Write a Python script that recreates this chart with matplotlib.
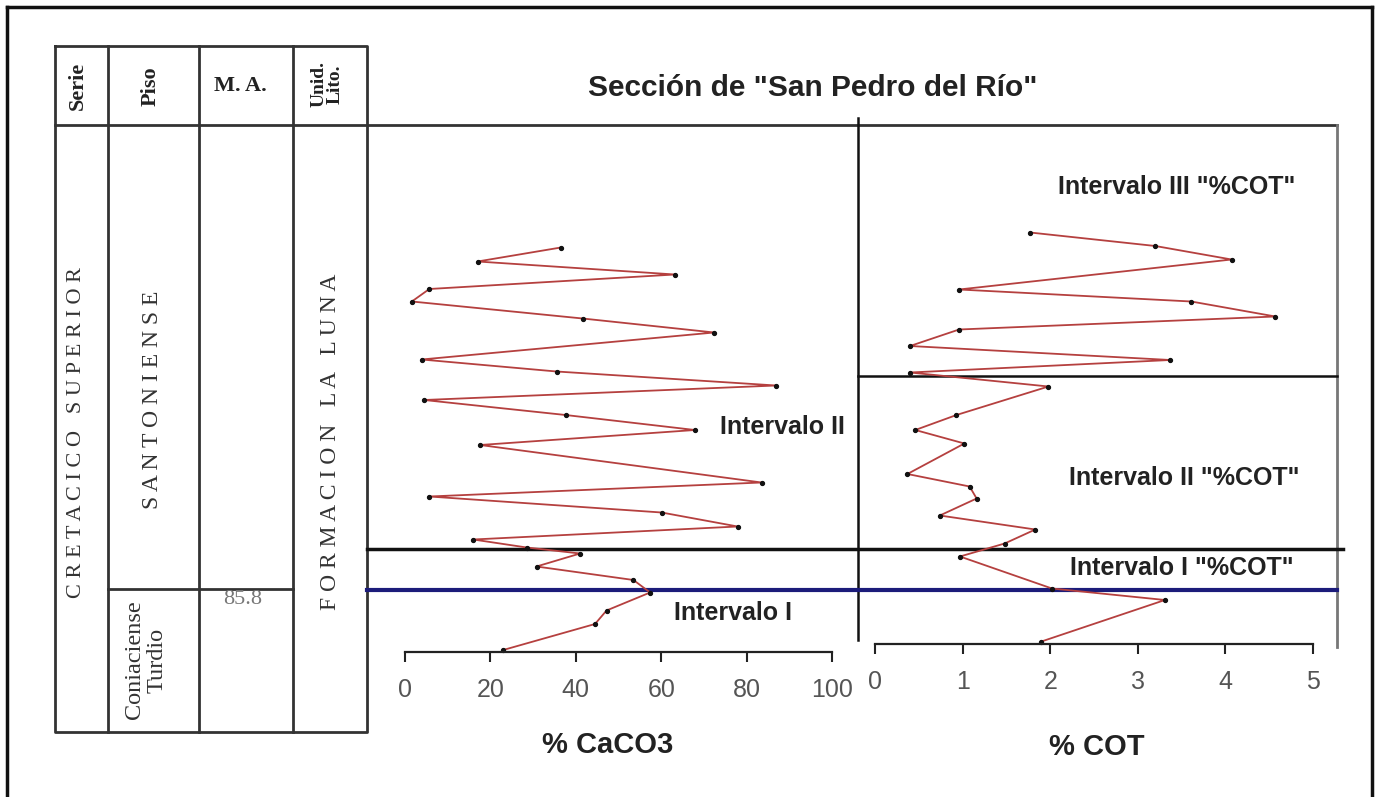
import matplotlib.pyplot as plt
from matplotlib.transforms import blended_transform_factory

W, H = 1379, 797

# altura estratigrafica relativa de cada muestra y valores medidos
alt_caco3 = [80.9, 78.1, 75.5, 72.6, 70.1, 66.7, 63.9, 58.5, 56.1, 53.3, 50.4, 47.4, 44.4, 41.4,
             33.9, 31.1, 27.9, 25.1, 22.5, 20.9, 19.7, 17.1, 14.4, 11.9, 8.3, 5.6, 0.4]
caco3 = [36.5, 17, 63.2, 5.7, 1.6, 41.6, 72.4, 3.9, 35.5, 86.9, 4.5, 37.6, 67.9, 17.6,
         83.5, 5.7, 60.1, 77.9, 16, 28.5, 41, 30.8, 53.5, 57.4, 47.2, 44.5, 23]

alt_cot = [83.9, 81.2, 78.5, 72.5, 70.1, 67.1, 64.5, 61.2, 58.4, 55.9, 53.1, 47.4, 44.4, 41.7,
           35.6, 33.1, 30.7, 27.3, 24.5, 21.7, 19.1, 12.7, 10.4, 2.1]
cot = [1.77, 3.20, 4.07, 0.96, 3.61, 4.57, 0.96, 0.40, 3.37, 0.40, 1.98, 0.93, 0.46, 1.02,
       0.37, 1.08, 1.16, 0.74, 1.83, 1.48, 0.97, 2.02, 3.31, 1.90]

ticks_caco3 = [0, 20, 40, 60, 80, 100]
ticks_cot = [0, 1, 2, 3, 4, 5]

lim_I_II = 20.6      # limite negro
lim_base = 12.4      # limite azul
lim_cot_III = 55.2   # limite intervalo III de COT

SANS = 'Liberation Sans'
SERIF = 'Liberation Serif'
LINEA = '#b5403f'


def frac(x0, y0, x1, y1):
    return [x0 / W, 1 - y1 / H, (x1 - x0) / W, (y1 - y0) / H]


fig = plt.figure(figsize=(W / 100, H / 100), dpi=100)

deco = fig.add_axes([0, 0, 1, 1], zorder=0)
deco.set_xlim(0, W)
deco.set_ylim(H, 0)
deco.axis('off')

ax1 = fig.add_axes(frac(367, 125, 858, 652), zorder=1)
ax2 = fig.add_axes(frac(858, 125, 1368, 644), zorder=1)

ax1.set_xlim((367 - 405) / 4.27, (858 - 405) / 4.27)
ax1.set_ylim(0, 105.4)
ax2.set_xlim((858 - 875) / 87.6, (1368 - 875) / 87.6)
ax2.set_ylim(1.6, 105.4)

ax1.plot(caco3, alt_caco3, color=LINEA, lw=1.3, marker='o', ms=2.8,
         mfc='#111', mec='#111', clip_on=False)
ax2.plot(cot, alt_cot, color=LINEA, lw=1.3, marker='o', ms=2.8,
         mfc='#111', mec='#111', clip_on=False)

for ax, ticks in [(ax1, ticks_caco3), (ax2, ticks_cot)]:
    ax.set_facecolor('none')
    for s in ['top', 'left', 'right']:
        ax.spines[s].set_visible(False)
    ax.spines['bottom'].set_bounds(ticks[0], ticks[-1])
    ax.spines['bottom'].set_linewidth(1.6)
    ax.spines['bottom'].set_color('#222')
    ax.set_xticks(ticks)
    ax.set_xticklabels([str(t) for t in ticks], fontsize=18, family=SANS, color='#555')
    ax.tick_params(axis='x', direction='out', length=7, width=1.5, color='#222', pad=12)
    ax.set_yticks([])

# ---- marco y tabla estratigrafica ----
k = dict(color='#111', lw=2.5)
deco.plot([7, 7], [7, H], **k)
deco.plot([7, 1372], [7, 7], **k)
deco.plot([1372, 1372], [7, H], **k)

t = dict(color='#333', lw=2)
deco.plot([55, 367, 367, 55, 55], [46, 46, 732, 732, 46], **t)
deco.plot([55, 1337], [125, 125], **t)
for xc in [108, 199, 293]:
    deco.plot([xc, xc], [46, 732], **t)
deco.plot([108, 293], [589, 589], **t)

deco.plot([858, 858], [118, 640], color='#111', lw=1.8)
deco.plot([1337, 1337], [125, 647], color='#777', lw=2)

tr = blended_transform_factory(deco.transData, ax1.transData)
deco.plot([367, 1343], [lim_I_II, lim_I_II], color='#111', lw=2.5, transform=tr)
deco.plot([367, 1337], [lim_base, lim_base], color='#1c1c7a', lw=3, transform=tr)
deco.plot([858, 1337], [lim_cot_III, lim_cot_III], color='#111', lw=1.8, transform=tr)

hb = dict(family=SERIF, weight='bold', color='#222', ha='center', va='center')
deco.text(78, 86, 'Serie', rotation=90, fontsize=16, **hb)
deco.text(151, 86, 'Piso', rotation=90, fontsize=16, **hb)
deco.text(240, 86, 'M. A.', fontsize=16, **hb)
deco.text(327, 84, 'Unid.\nLito.', rotation=90, fontsize=14, linespacing=0.95, **hb)

sr = dict(family=SERIF, color='#333', ha='center', va='center', rotation=90)
deco.text(77, 433, 'C R E T A C I C O   S U P E R I O R', fontsize=16, **sr)
deco.text(153, 400, 'S A N T O N I E N S E', fontsize=17, **sr)
deco.text(331, 442, 'F O R M A C I O N   L A   L U N A', fontsize=17, **sr)
deco.text(146, 660, 'Coniaciense\nTurdio', fontsize=17.5, linespacing=1.1,
          multialignment='center', **sr)
deco.text(243, 600, '85.8', family=SERIF, fontsize=16, color='#777', ha='center', va='center')

# ---- textos ----
deco.text(813, 88, 'Sección de "San Pedro del Río"', family=SANS, weight='bold',
          fontsize=21.5, color='#222', ha='center', va='center')
lb = dict(family=SANS, weight='bold', fontsize=18, color='#222', ha='center', va='center')
deco.text(782, 427, 'Intervalo II', **lb)
deco.text(733, 613, 'Intervalo I', **lb)
deco.text(1177, 187, 'Intervalo III "%COT"', **lb)
deco.text(1184, 478, 'Intervalo II "%COT"', **lb)
deco.text(1182, 568, 'Intervalo I "%COT"', **lb)

deco.text(608, 745, '% CaCO3', family=SANS, weight='bold', fontsize=21, color='#222',
          ha='center', va='center')
deco.text(1097, 747, '% COT', family=SANS, weight='bold', fontsize=21, color='#222',
          ha='center', va='center')

fig.savefig('out.png', dpi=100)
